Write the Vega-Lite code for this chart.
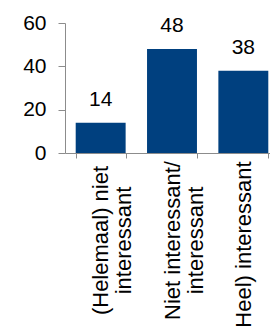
{
  "$schema": "https://vega.github.io/schema/vega-lite/v6.json",
  "width": 214,
  "height": 130,
  "autosize": {"type": "none"},
  "padding": {"left": 65, "top": 23, "right": 0, "bottom": 175},
  "background": "white",
  "config": {"view": {"stroke": null}, "font": "Liberation Sans"},
  "data": {
    "values": [
      {"categorie": "(Helemaal) niet interessant", "waarde": 14},
      {"categorie": "Niet interessant/ interessant", "waarde": 48},
      {"categorie": "Heel) interessant", "waarde": 38}
    ]
  },
  "encoding": {
    "x": {
      "field": "categorie",
      "type": "nominal",
      "sort": null,
      "scale": {"paddingInner": 0.3, "paddingOuter": 0.15},
      "axis": {
        "title": null,
        "labelAngle": -90,
        "labelAlign": "center",
        "labelBaseline": "middle",
        "labelFontSize": 22,
        "labelColor": "black",
        "labelLineHeight": 23,
        "labelPadding": {"condition": {"test": "datum.value == 'Heel) interessant'", "value": 86}, "value": 82},
        "labelExpr": "datum.value == '(Helemaal) niet interessant' ? ['(Helemaal) niet', 'interessant'] : datum.value == 'Niet interessant/ interessant' ? ['Niet interessant/', 'interessant'] : datum.value",
        "tickBand": "extent",
        "tickSize": 5,
        "tickColor": "#8c8c8c",
        "domainColor": "#8c8c8c",
        "labelOverlap": false,
        "labelLimit": 400
      }
    },
    "y": {
      "field": "waarde",
      "type": "quantitative",
      "scale": {"domain": [0, 60], "nice": false},
      "axis": {
        "title": null,
        "values": [0, 20, 40, 60],
        "grid": false,
        "labelFontSize": 21,
        "labelColor": "black",
        "labelPadding": 12,
        "tickSize": 7,
        "tickColor": "#8c8c8c",
        "domainColor": "#8c8c8c"
      }
    }
  },
  "layer": [
    {"mark": {"type": "bar", "color": "#00407f"}},
    {
      "mark": {"type": "text", "baseline": "alphabetic", "dy": -17, "fontSize": 21, "color": "black"},
      "encoding": {"text": {"field": "waarde", "type": "quantitative"}}
    }
  ]
}
